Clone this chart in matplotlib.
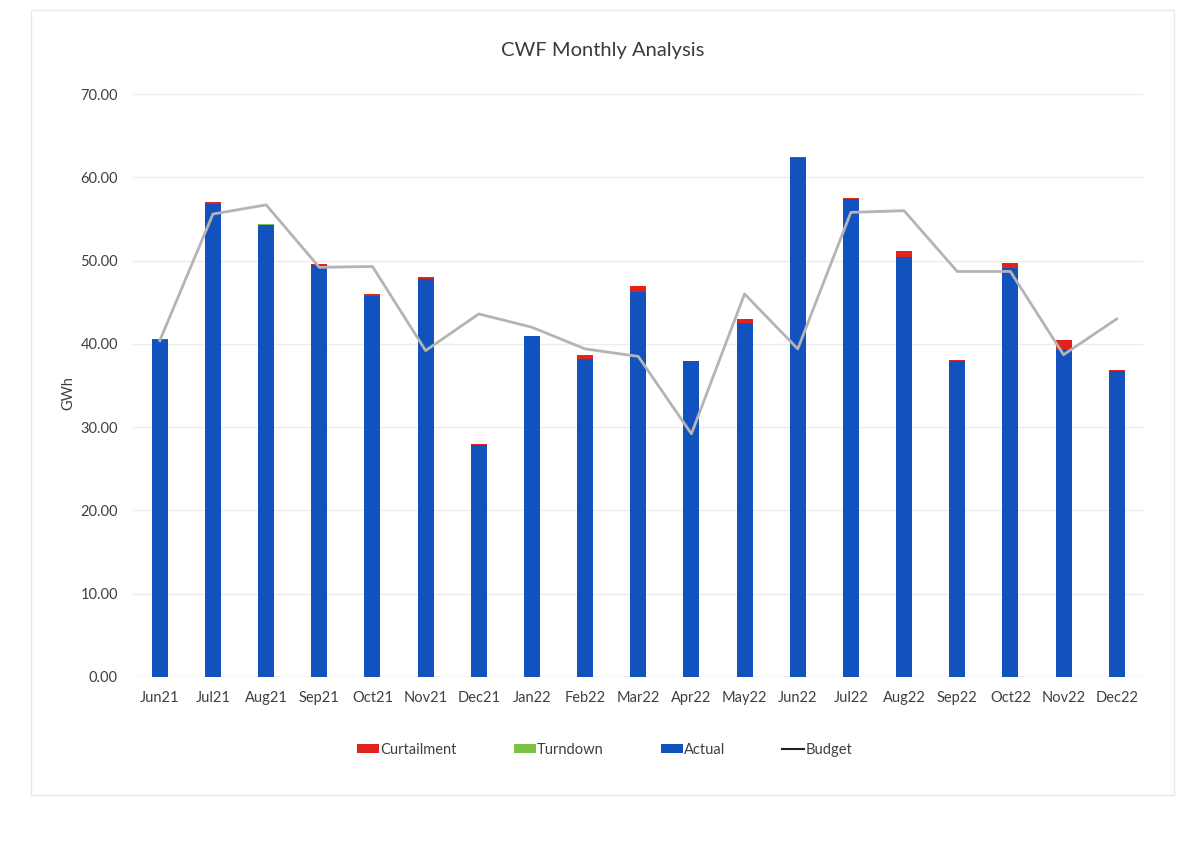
import matplotlib
matplotlib.use("Agg")
import matplotlib.pyplot as plt
from matplotlib.patches import Rectangle
from matplotlib.lines import Line2D
import numpy as np

# monthly values, GWh
months = ['Jun21', 'Jul21', 'Aug21', 'Sep21', 'Oct21', 'Nov21', 'Dec21', 'Jan22', 'Feb22',
          'Mar22', 'Apr22', 'May22', 'Jun22', 'Jul22', 'Aug22', 'Sep22', 'Oct22', 'Nov22', 'Dec22']
actual = [40.5, 56.8, 54.3, 49.5, 45.7, 47.8, 27.8, 40.95, 38.2, 46.2, 37.95, 42.55,
          62.35, 57.45, 50.4, 37.95, 49.15, 39.3, 36.75]
turndown = [0, 0, 0.05, 0, 0, 0, 0, 0, 0, 0, 0, 0, 0, 0, 0, 0, 0, 0, 0]
curtailment = [0.1, 0.3, 0.1, 0.05, 0.3, 0.2, 0.2, 0.05, 0.5, 0.8, 0.05, 0.45,
               0.05, 0.05, 0.7, 0.15, 0.55, 1.2, 0.15]
budget = [40.4, 55.6, 56.7, 49.2, 49.3, 39.2, 43.6, 42.0, 39.4, 38.5, 29.2, 46.0,
          39.4, 55.8, 56.0, 48.7, 48.7, 38.7, 43.0]

plt.rcParams['font.family'] = ['Lato', 'DejaVu Sans']
txtcol = '#404040'

fig = plt.figure(figsize=(11.79, 8.48), dpi=100)
ax = fig.add_axes([0.113, 0.2017, 0.8567, 0.6873])

x = np.arange(len(months))
w = 0.3
act = np.array(actual)
turn = np.array(turndown)
cur = np.array(curtailment)

ax.bar(x, act, w, color='#1252BE', label='Actual', zorder=2)
ax.bar(x, turn, w, bottom=act, color='#7CC242', label='Turndown', zorder=2)
ax.bar(x, cur, w, bottom=act + turn, color='#E0231C', label='Curtailment', zorder=2)
ax.plot(x, budget, color='#B4B4B4', lw=2, zorder=3)

ax.set_xlim(-0.5, len(months) - 0.5)
ax.set_ylim(0, 70)
ax.set_yticks(np.arange(0, 71, 10))
ax.set_yticklabels([f'{v:.2f}' for v in range(0, 71, 10)])
ax.set_xticks(x)
ax.set_xticklabels(months)
ax.tick_params(axis='both', length=0, labelsize=10.5, colors=txtcol, pad=10)
ax.tick_params(axis='y', pad=11)
ax.grid(axis='y', color='#ececec', lw=1, zorder=0)
for s in ['top', 'right', 'left', 'bottom']:
    ax.spines[s].set_visible(False)
ax.axhline(0, color='#e4e4e4', lw=1, zorder=1)

ax.set_ylabel('GWh', fontsize=10.5, color=txtcol)
ax.yaxis.set_label_coords(-0.057, 0.487)
fig.text(0.511, 0.941, 'CWF Monthly Analysis', ha='center', va='center',
         fontsize=14.5, color='#3a3a3a')

# legend in the order of the original
h, l = ax.get_legend_handles_labels()
handles = [h[2], h[1], h[0], Line2D([], [], color='#222222', lw=1.5)]
labels = ['Curtailment', 'Turndown', 'Actual', 'Budget']
fig.legend(handles, labels, loc='center', bbox_to_anchor=(0.513, 0.116), ncol=4,
           frameon=False, fontsize=10.5, handlelength=1.5, handleheight=0.5,
           handletextpad=0.1, columnspacing=3.9, labelcolor=txtcol)

# faint outline of the scanned chart area
fig.patches.append(Rectangle((0.026, 0.063), 0.97, 0.925, transform=fig.transFigure,
                             fill=False, ec='#e8e8e8', lw=1))

fig.savefig('out.png', dpi=100, facecolor='white')
plt.close()
